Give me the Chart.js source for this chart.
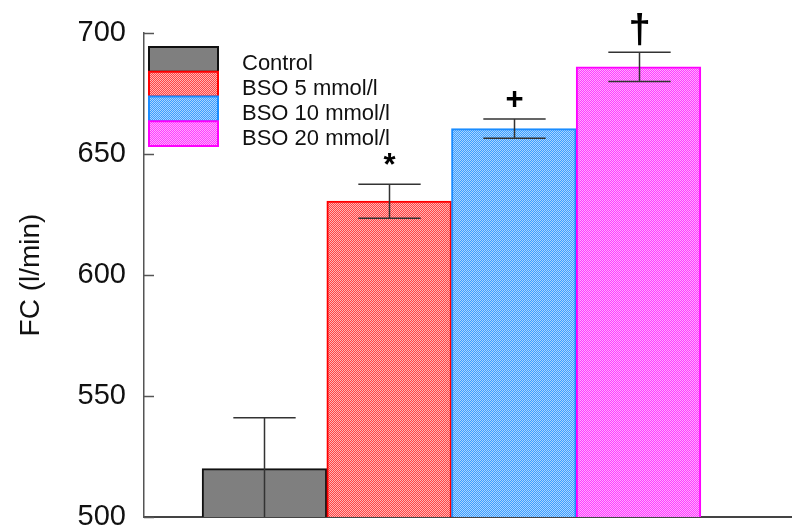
<!DOCTYPE html>
<html>
<head>
<meta charset="utf-8">
<script src="https://cdn.jsdelivr.net/npm/chart.js@4/dist/chart.umd.min.js"></script>
<style>
  body { margin: 0; background: #fff; }
  #chart { display: block; }
</style>
</head>
<body>
<canvas id="chart" width="792" height="531"></canvas>
<script>
// FC per treatment group, mean with error bar
const groups = [ 'Control', 'BSO 5 mmol/l', 'BSO 10 mmol/l', 'BSO 20 mmol/l' ]
const fcMean = [ 520, 630.5, 660.5, 686 ]
const fcErr = [ 21, 7, 4, 6 ]
const marks = [ '', '*', '+', '\u2020' ]
const yTicks = [ 500, 550, 600, 650, 700 ]

// fill colours: solid grey for control, dithered for the BSO groups
const fills = [ [ '#7f7f7f', '#7f7f7f' ], [ '#ff4444', '#ffb4b4' ], [ '#3d9eff', '#aad5ff' ], [ '#ff3dff', '#ffaaff' ] ]
const borders = [ '#111111', '#ff0000', '#1a8cff', '#ff00ff' ]

function dither( c1, c2 ) {
  const cv = document.createElement( 'canvas' )
  cv.width = 2
  cv.height = 2
  const g = cv.getContext( '2d' )
  g.fillStyle = c1
  g.fillRect( 0, 0, 2, 2 )
  g.fillStyle = c2
  g.fillRect( 0, 0, 1, 1 )
  g.fillRect( 1, 1, 1, 1 )
  return g.createPattern( cv, 'repeat' )
}
const patterns = fills.map( f => dither( f[ 0 ], f[ 1 ] ) )

// inward ticks on the y axis
const innerTicks = {
  id: 'innerTicks',
  afterDraw( chart ) {
    const { ctx } = chart
    const y = chart.scales.y
    ctx.save()
    ctx.strokeStyle = '#555'
    ctx.lineWidth = 1.5
    y.ticks.forEach( t => {
      const py = Math.round( y.getPixelForValue( t.value ) ) + 0.5
      ctx.beginPath()
      ctx.moveTo( y.right, py )
      ctx.lineTo( y.right + 10, py )
      ctx.stroke()
    } )
    ctx.restore()
  }
}

// error bars and significance marks
const errorBars = {
  id: 'errorBars',
  afterDatasetsDraw( chart ) {
    const { ctx, chartArea } = chart
    const y = chart.scales.y
    const meta = chart.getDatasetMeta( 0 )
    ctx.save()
    ctx.beginPath()
    ctx.rect( chartArea.left, 0, chartArea.width, chartArea.bottom )
    ctx.clip()
    ctx.strokeStyle = '#333'
    ctx.lineWidth = 1.5
    meta.data.forEach( ( bar, i ) => {
      const x = Math.round( bar.x ) + 0.5
      const hi = y.getPixelForValue( fcMean[ i ] + fcErr[ i ] )
      const lo = y.getPixelForValue( fcMean[ i ] - fcErr[ i ] )
      const half = bar.width / 4
      ctx.beginPath()
      ctx.moveTo( x, hi )
      ctx.lineTo( x, lo )
      ctx.moveTo( x - half, hi )
      ctx.lineTo( x + half, hi )
      ctx.moveTo( x - half, lo )
      ctx.lineTo( x + half, lo )
      ctx.stroke()
      if ( marks[ i ] ) {
        const dagger = marks[ i ] === '\u2020'
        ctx.fillStyle = '#000'
        ctx.textAlign = 'center'
        ctx.textBaseline = 'alphabetic'
        ctx.font = dagger ? 'bold 40px "Liberation Sans"' : 'bold 31px "Liberation Sans"'
        const off = marks[ i ] === '*' ? 9 : dagger ? 9 : 10
        ctx.fillText( marks[ i ], x, hi - off )
      }
    } )
    ctx.restore()
  }
}

// legend: stacked swatches with labels beside them
const boxLegend = {
  id: 'boxLegend',
  afterDraw( chart ) {
    const { ctx } = chart
    const x0 = 149, y0 = 47, w = 69, h = 24.75
    ctx.save()
    groups.forEach( ( g, i ) => {
      const top = y0 + i * h
      ctx.fillStyle = patterns[ i ]
      ctx.fillRect( x0, top, w, h )
      ctx.strokeStyle = borders[ i ]
      ctx.lineWidth = 2
      ctx.strokeRect( x0, top, w, h )
      ctx.fillStyle = '#111'
      ctx.font = '22px "Liberation Sans"'
      ctx.textAlign = 'left'
      ctx.textBaseline = 'middle'
      ctx.fillText( g, 242, top + h / 2 + 5 )
    } )
    ctx.restore()
  }
}

new Chart( document.getElementById( 'chart' ), {
  type: 'bar',
  data: {
    datasets: [ {
      data: fcMean.map( ( v, i ) => ( { x: i, y: v } ) ),
      backgroundColor: patterns,
      borderColor: borders,
      borderWidth: 2,
      barPercentage: 1,
      categoryPercentage: 1
    } ]
  },
  options: {
    responsive: false,
    animation: false,
    events: [ ],
    layout: { autoPadding: false, padding: { top: 33, right: 0, left: 0, bottom: 0 } },
    plugins: { legend: { display: false }, tooltip: { enabled: false } },
    scales: {
      x: {
        type: 'linear',
        offset: false,
        min: -0.966,
        max: 4.231,
        afterBuildTicks: s => { s.ticks = groups.map( ( g, i ) => ( { value: i } ) ) },
        ticks: { display: false },
        grid: { display: false, drawTicks: false, offset: false },
        border: { display: true, color: '#444', width: 2 },
        afterFit: s => { s.height = 14 }
      },
      y: {
        min: 500,
        max: 700,
        afterBuildTicks: s => { s.ticks = yTicks.map( v => ( { value: v } ) ) },
        ticks: { color: '#111', font: { family: 'Liberation Sans', size: 29 }, padding: 18 },
        grid: { display: false, drawTicks: false },
        border: { display: true, color: '#555', width: 1.5 },
        title: { display: true, text: 'FC (l/min)', color: '#111', font: { family: 'Liberation Sans', size: 28 }, padding: { top: 14, bottom: 0 } },
        afterFit: s => {
          s.width = 144
          s.paddingTop = 0
          s.paddingBottom = 0
        }
      }
    }
  },
  plugins: [ innerTicks, errorBars, boxLegend ]
} )
</script>
</body>
</html>
